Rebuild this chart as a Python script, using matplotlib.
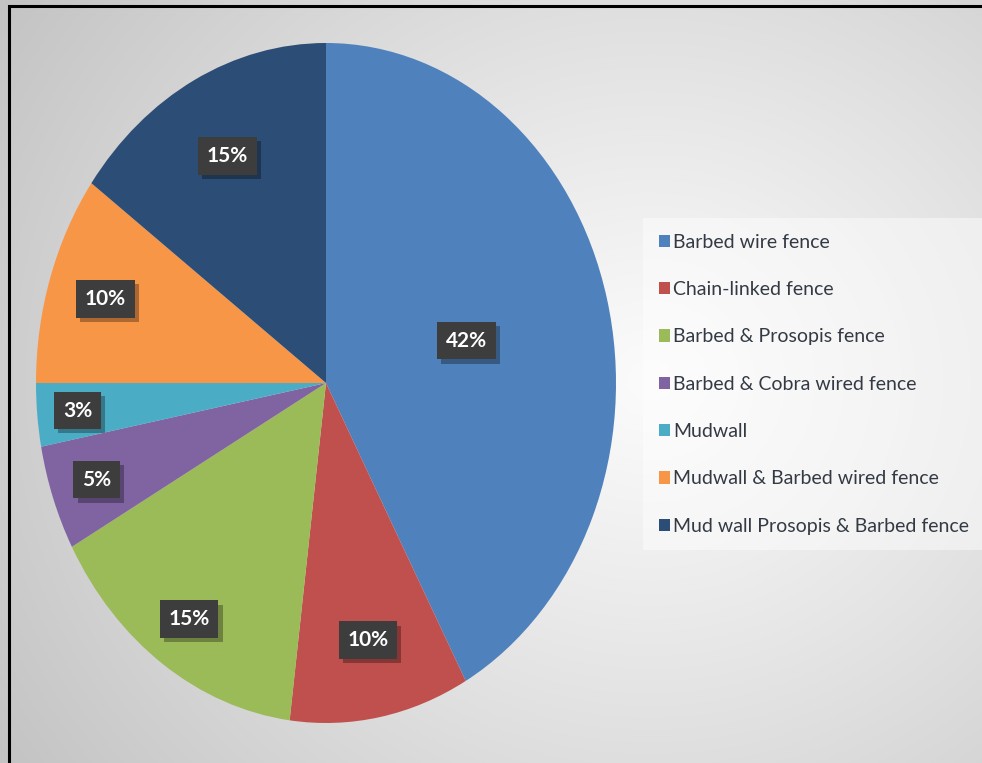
import numpy as np
import matplotlib
matplotlib.use("Agg")
import matplotlib.pyplot as plt
import matplotlib.patheffects as pe
from matplotlib.patches import Patch, Rectangle

plt.rcParams['font.family'] = ['Lato', 'DejaVu Sans']

# fence types and their shares (%)
fences = ['Barbed wire fence', 'Chain-linked fence', 'Barbed & Prosopis fence',
          'Barbed & Cobra wired fence', 'Mudwall', 'Mudwall & Barbed wired fence',
          'Mud wall Prosopis & Barbed fence']
shares = [42, 10, 15, 5, 3, 10, 15]
colors = ['#4F81BD', '#C0504D', '#9BBB59', '#8064A2', '#4BACC6', '#F79646', '#2C4D75']
# how far out each percentage box sits (fraction of radius)
label_r = [0.50, 0.77, 0.84, 0.84, 0.86, 0.80, 0.75]

W, H = 982, 763
fig = plt.figure(figsize=(W / 100, H / 100), dpi=100)

# soft radial grey background, painted straight onto the figure
yy, xx = np.mgrid[0:H, 0:W]
d = np.hypot(xx - 650, (yy - 380) / 0.9)
g = 0.985 - 0.22 * (d / d.max()) ** 1.1
fig.figimage(np.dstack([g, g, g]), xo=0, yo=0, origin='upper', zorder=-10)

# chart frame: only its top and left sides fall inside the image
frame = Rectangle((9, -60), W + 60, H - 6 + 60, transform=None, fill=False,
                  ec='black', lw=2.2, clip_on=False)
fig.add_artist(frame)

# pie, slightly stretched vertically
cx, cy, rx, ry = 326, 383, 290, 340
ax = fig.add_axes([(cx - rx) / W, (H - cy - ry) / H, 2 * rx / W, 2 * ry / H])
ax.set_zorder(2)
ax.patch.set_alpha(0)
wedges, _ = ax.pie(shares, colors=colors, startangle=90, counterclock=False,
                   wedgeprops=dict(linewidth=0))
ax.set_aspect('auto')
ax.set_xlim(-1, 1)
ax.set_ylim(-1, 1)
ax.axis('off')

angle = 90.0
for val, r in zip(shares, label_r):
    mid = np.deg2rad(angle - val * 360 / 100 / 2)
    angle -= val * 360 / 100
    t = ax.text(r * np.cos(mid), r * np.sin(mid), f'{val}%', ha='center', va='center',
                fontsize=15, fontweight='bold', color='white',
                bbox=dict(boxstyle='square,pad=0.42', fc='#3d3d3d', ec='none'))
    t.get_bbox_patch().set_path_effects([
        pe.SimplePatchShadow(offset=(3, -3), shadow_rgbFace='black', alpha=0.3),
        pe.Normal()])

handles = [Patch(facecolor=c, edgecolor='none') for c in colors]
leg = fig.legend(handles, fences, loc='upper left',
                 bbox_to_anchor=(643 / W, 1 - 218 / H), frameon=True,
                 fontsize=14, handlelength=0.6, handleheight=0.6,
                 handletextpad=0.15, labelspacing=1.56, borderpad=0.8,
                 borderaxespad=0, fancybox=False)
leg.set_zorder(3)
leg.get_frame().set_facecolor('white')
leg.get_frame().set_alpha(0.45)
leg.get_frame().set_edgecolor('none')
for t in leg.get_texts():
    t.set_color('#333a44')

fig.savefig('out.png', dpi=100)
